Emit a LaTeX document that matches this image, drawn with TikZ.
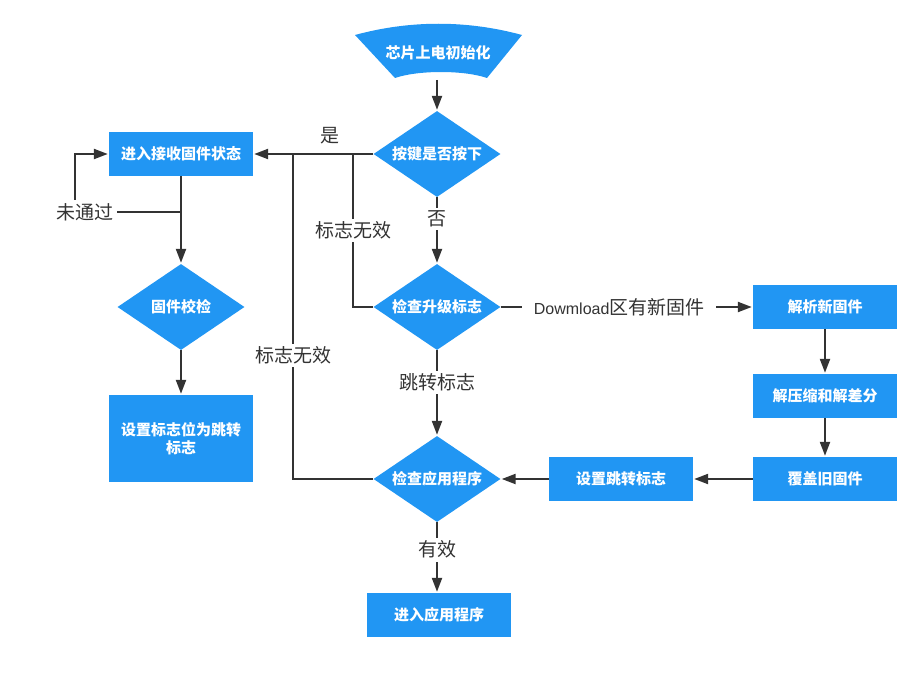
\documentclass[tikz,border=0pt]{standalone}
\usepackage{fontspec}
\setmainfont{Noto Sans CJK SC}
\newfontfamily\latinfont{Liberation Sans}
\usetikzlibrary{shapes.geometric,arrows.meta}
\definecolor{flowblue}{HTML}{2196F3}
\definecolor{flowline}{HTML}{333333}
\tikzset{
  procbox/.style={rectangle, fill=flowblue, text=white, minimum width=144, minimum height=44,
    inner sep=2pt, align=center, font=\fontsize{15}{18}\selectfont\bfseries},
  decide/.style={diamond, aspect=1.5, fill=flowblue, text=white, minimum width=127, minimum height=86,
    inner sep=0pt, font=\fontsize{15}{18}\selectfont\bfseries},
  conn/.style={draw=flowline, line width=2.2pt},
  flow/.style={conn, -{Triangle[length=14pt,width=10pt]}, shorten >=1pt},
  lbl/.style={fill=white, text=flowline, inner sep=3pt, font=\fontsize{19}{22}\selectfont}
}
\begin{document}
\begin{tikzpicture}[x=1pt,y=1pt,yscale=-1,xscale=1]
\useasboundingbox (0,0) rectangle (924,682);

%Shape: start
\fill[flowblue] (355,35) .. controls (410,20) and (467,20) .. (522,35) -- (487,78)
  .. controls (464,70) and (418,70) .. (395,78) -- cycle;
% Text Node
\node [text=white, font=\fontsize{15}{18}\selectfont\bfseries] (init) at (438,53) {芯片上电初始化};
\coordinate (initbot) at (437,80);

%Shape: Diamonds
\node [decide] (key) at (437,154) {按键是否按下};
\node [decide] (upg) at (437,307) {检查升级标志};
\node [decide] (app) at (437,479) {检查应用程序};
\node [decide] (fwchk) at (181,307) {固件校检};

%Shape: Rectangles
\node [procbox] (recv) at (181,154) {进入接收固件状态};
\node [procbox, minimum height=87] (setflag) at (181,438.5) {设置标志位为跳转\\标志};
\node [procbox] (runapp) at (439,615) {进入应用程序};
\node [procbox] (parse) at (825,307) {解析新固件};
\node [procbox] (unzip) at (825,396) {解压缩和解差分};
\node [procbox] (cover) at (825,479) {覆盖旧固件};
\node [procbox] (setjump) at (621,479) {设置跳转标志};

%Junctions
\coordinate (jA) at (353,154);
\coordinate (jB) at (293,154);
\coordinate (jC) at (181,212);
\coordinate (cnr) at (75,212);

%Straight Lines
\draw [flow] (initbot) -- (key.north);
\draw [flow] (key.south) -- node [lbl, pos=0.33] {否} (upg.north);
\draw [flow] (key.west) -- node [lbl, above=6pt, pos=0.36] {是} (recv.east);
\draw [conn] (upg.west) -| node [lbl, pos=0.75] {标志无效} (jA);
\draw [conn] (app.west) -| node [lbl, pos=0.69] {标志无效} (jB);
\draw [flow] (recv.south) -- (fwchk.north);
\draw [flow] (jC) -- (cnr) node [lbl, xshift=10pt] {未通过} |- (recv.west);
\draw [flow] (fwchk.south) -- (setflag.north);
\draw [flow] (upg.south) -- node [lbl, pos=0.38] {跳转标志} (app.north);
\draw [flow] (app.south) -- node [lbl, pos=0.39] {有效} (runapp.north -| app.south);
\draw [flow] (upg.east) -- node [lbl, pos=0.47, inner xsep=12pt]
  {{\latinfont\fontsize{16}{20}\selectfont Dowmload}区有新固件} (parse.west);
\draw [flow] (parse.south) -- (unzip.north);
\draw [flow] (unzip.south) -- (cover.north);
\draw [flow] (cover.west) -- (setjump.east);
\draw [flow] (setjump.west) -- (app.east);
\end{tikzpicture}
\end{document}
